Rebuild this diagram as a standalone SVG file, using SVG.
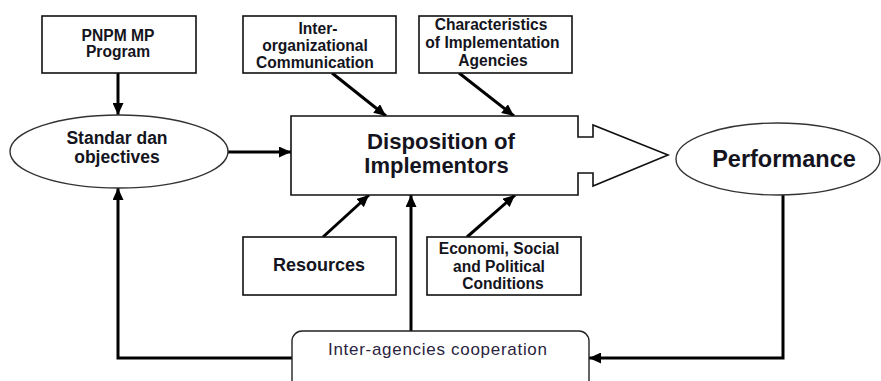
<svg xmlns="http://www.w3.org/2000/svg" width="881" height="381" viewBox="0 0 881 381">
<style>
.box{fill:#fff;stroke:#111;stroke-width:1.6}
.ell{fill:#fff;stroke:#333;stroke-width:1.4}
.t{font-family:"Liberation Sans",Arial,sans-serif;font-weight:bold;fill:#141420;text-anchor:middle}
.s{font-size:15.6px}
.conn{fill:none;stroke:#000;stroke-width:3}
</style>
<defs>
<marker id="ah" markerUnits="userSpaceOnUse" markerWidth="13" markerHeight="11" refX="12" refY="5.5" orient="auto">
<path d="M0,0 L12,5.5 L0,11 Z" fill="#000"/>
</marker>
</defs>
<rect width="881" height="381" fill="#fff"/>
<g id="connectors">
<line class="conn" x1="118" y1="73" x2="118" y2="115" marker-end="url(#ah)"/>
<line class="conn" x1="228" y1="152" x2="291" y2="152" marker-end="url(#ah)"/>
<line class="conn" x1="332" y1="73" x2="386" y2="116" marker-end="url(#ah)"/>
<line class="conn" x1="459" y1="73" x2="514" y2="116" marker-end="url(#ah)"/>
<line class="conn" x1="323" y1="237" x2="369" y2="195" marker-end="url(#ah)"/>
<line class="conn" x1="467" y1="237" x2="515" y2="195" marker-end="url(#ah)"/>
<line class="conn" x1="411" y1="331" x2="411" y2="195" marker-end="url(#ah)"/>
<polyline class="conn" points="292,358 118,358 118,188" marker-end="url(#ah)"/>
<polyline class="conn" points="783,195 783,358 589,358" marker-end="url(#ah)"/>
</g>
<g id="pnpm">
<rect class="box" x="42" y="16" width="154" height="57"/>
<text class="t s" x="118" y="40.5">PNPM MP</text>
<text class="t s" x="118" y="56.5">Program</text>
</g>
<g id="interorg">
<rect class="box" x="243" y="16" width="153" height="57"/>
<text class="t s" x="318" y="33.5">Inter-</text>
<text class="t s" x="315" y="50.5">organizational</text>
<text class="t s" x="315" y="67.5">Communication</text>
</g>
<g id="characteristics">
<rect class="box" x="419" y="16" width="153" height="57"/>
<text class="t s" x="491" y="29.5">Characteristics</text>
<text class="t s" x="492.5" y="47.5">of Implementation</text>
<text class="t s" x="493" y="65.5">Agencies</text>
</g>
<g id="standar">
<ellipse class="ell" cx="119" cy="151.5" rx="109" ry="36.5"/>
<text class="t" style="font-size:17.5px" x="117" y="144">Standar dan</text>
<text class="t" style="font-size:17.5px" x="117" y="163">objectives</text>
</g>
<g id="disposition">
<path class="box" d="M291,116 H578 V137 H593 V125 L668,155 L593,186 V173 H578 V195 H291 Z"/>
<text class="t" style="font-size:22px" x="441" y="149" textLength="148" lengthAdjust="spacingAndGlyphs">Disposition of</text>
<text class="t" style="font-size:22px" x="436.5" y="172.5">Implementors</text>
</g>
<g id="performance">
<ellipse class="ell" cx="778" cy="159" rx="102" ry="36"/>
<text class="t" style="font-size:23.5px" x="784" y="167">Performance</text>
</g>
<g id="resources">
<rect class="box" x="243" y="237" width="153" height="58"/>
<text class="t" style="font-size:18px" x="319" y="271">Resources</text>
</g>
<g id="economi">
<rect class="box" x="427" y="237" width="154" height="58"/>
<text class="t s" x="499" y="253.5">Economi, Social</text>
<text class="t s" x="499" y="271.5">and Political</text>
<text class="t s" x="503" y="288.5">Conditions</text>
</g>
<g id="interagencies">
<rect x="292" y="331" width="297" height="70" rx="10" ry="10" fill="#fff" stroke="#222" stroke-width="1.4"/>
<text x="437.5" y="355" style="font-family:'Liberation Sans',Arial,sans-serif;font-size:17px;fill:#2a2340;text-anchor:middle" textLength="219" lengthAdjust="spacing">Inter-agencies cooperation</text>
</g>
</svg>
